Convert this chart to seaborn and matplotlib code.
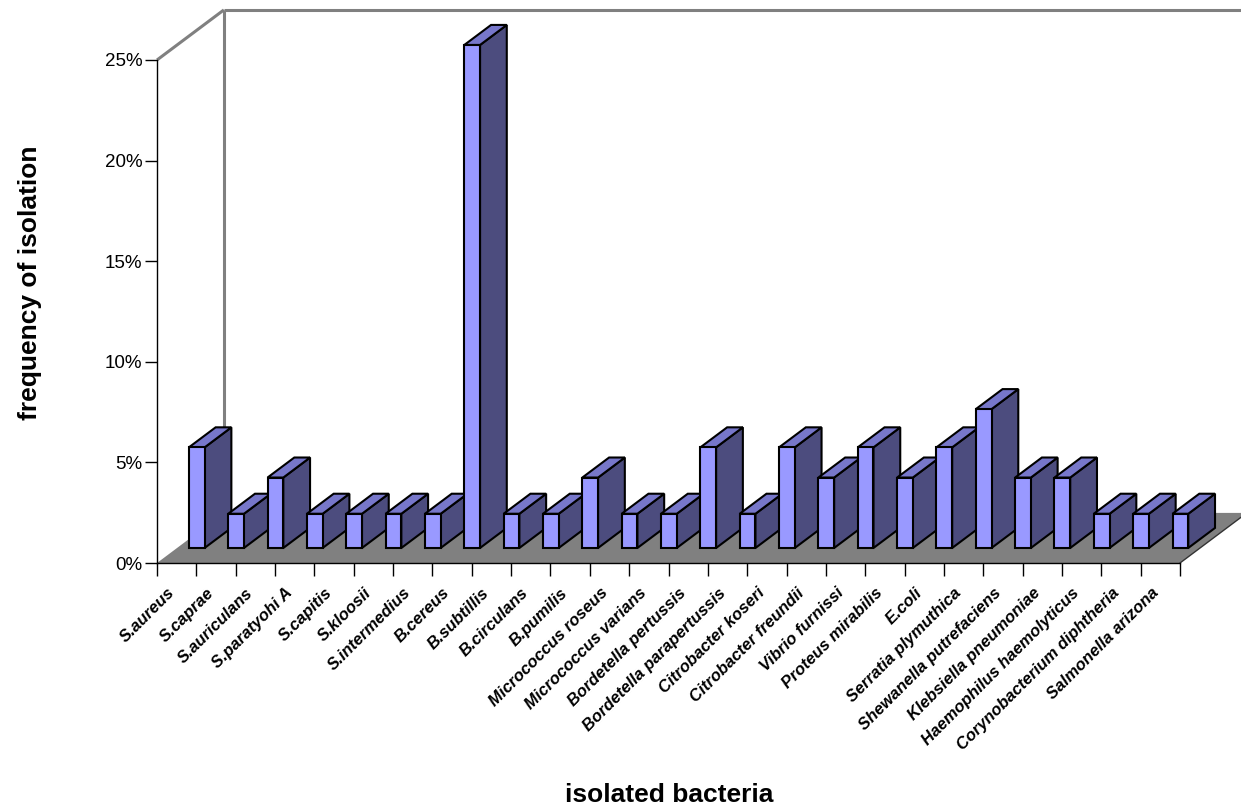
import numpy as np
import pandas as pd
import matplotlib
matplotlib.use("Agg")
import matplotlib.pyplot as plt
from matplotlib.patches import Polygon
from matplotlib.lines import Line2D
from matplotlib.transforms import ScaledTranslation
import seaborn as sns

# Isolated bacteria and their frequency of isolation (%)
bacteria = [
    "S.aureus", "S.caprae", "S.auriculans", "S.paratyohi A", "S.capitis",
    "S.kloosii", "S.intermedius", "B.cereus", "B.subtillis", "B.circulans",
    "B.pumilis", "Micrococcus roseus", "Micrococcus varians",
    "Bordetella pertussis", "Bordetella parapertussis", "Citrobacter koseri",
    "Citrobacter freundii", "Vibrio furnissi", "Proteus mirabilis", "E.coli",
    "Serratia plymuthica", "Shewanella putrefaciens", "Klebsiella pneumoniae",
    "Haemophilus haemolyticus", "Corynobacterium diphtheria",
    "Salmonella arizona",
]
frequency = [
    5.0, 1.7, 3.5, 1.7, 1.7,
    1.7, 1.7, 25.0, 1.7, 1.7,
    3.5, 1.7, 1.7,
    5.0, 1.7, 5.0,
    3.5, 5.0, 3.5, 5.0,
    6.9, 3.5, 3.5,
    1.7, 1.7,
    1.7,
]
y_ticks = [0, 5, 10, 15, 20, 25]

FRONT = "#9999FF"
TOP = "#7777CA"
SIDE = "#4C4C7E"
FLOOR = "#808080"
WALL = "#808080"

sns.set_theme(style="white")
plt.rcParams["font.family"] = ["Liberation Sans", "DejaVu Sans"]

W, H = 1241, 809
fig = plt.figure(figsize=(W / 100, H / 100), dpi=100)
ax = fig.add_axes([157 / W, 1 - 563 / H, (1180 - 157) / W, (563 - 60) / H])

df = pd.DataFrame({"bacteria": bacteria, "frequency": frequency})
sns.barplot(data=df, x="bacteria", y="frequency", ax=ax, color=FRONT,
            saturation=1, width=0.4, edgecolor="black", linewidth=1.5)

n = len(bacteria)
ax.set_xlim(-0.5, n - 0.5)
ax.set_ylim(0, 25)

# oblique depth of the 3-D box, in data units
DX, DY = 1.70, 2.49
z0, z1 = 0.3, 0.7

# floor
floor = Polygon([(-0.5, 0), (n - 0.5, 0), (n - 0.5 + DX, DY), (-0.5 + DX, DY)],
                closed=True, facecolor=FLOOR, edgecolor="none",
                zorder=1, clip_on=False)
ax.add_patch(floor)
ax.add_line(Line2D([n - 0.5, n - 0.5 + DX], [0, DY], color="#333333",
                   linewidth=1.0, zorder=1.1, clip_on=False))

# back and side walls
wall_kw = dict(color=WALL, linewidth=2.2, zorder=0.9, clip_on=False,
               solid_capstyle="butt")
ax.add_line(Line2D([-0.5 + DX, -0.5 + DX], [DY, 25 + DY], **wall_kw))
ax.add_line(Line2D([-0.5 + DX, n + 3], [25 + DY, 25 + DY], **wall_kw))
ax.add_line(Line2D([-0.5, -0.5 + DX], [25, 25 + DY], **wall_kw))

# turn the flat bars into prisms
bars = [b for b in ax.patches if b is not floor]
ddx, ddy = (z1 - z0) * DX, (z1 - z0) * DY
for i, p in enumerate(bars):
    x0 = p.get_x() + z0 * DX
    y0 = z0 * DY
    w, h = p.get_width(), p.get_height()
    p.set_x(x0)
    p.set_y(y0)
    p.set_clip_on(False)
    p.set_zorder(3 + i * 0.1 + 0.05)
    top = Polygon([(x0, y0 + h), (x0 + w, y0 + h),
                   (x0 + w + ddx, y0 + h + ddy), (x0 + ddx, y0 + h + ddy)],
                  closed=True, facecolor=TOP, edgecolor="black",
                  linewidth=1.5, joinstyle="miter", zorder=3 + i * 0.1,
                  clip_on=False)
    side = Polygon([(x0 + w, y0), (x0 + w + ddx, y0 + ddy),
                    (x0 + w + ddx, y0 + h + ddy), (x0 + w, y0 + h)],
                   closed=True, facecolor=SIDE, edgecolor="black",
                   linewidth=1.5, joinstyle="miter", zorder=3 + i * 0.1,
                   clip_on=False)
    ax.add_patch(side)
    ax.add_patch(top)

# axes
for s in ["top", "right"]:
    ax.spines[s].set_visible(False)
for s in ["left", "bottom"]:
    ax.spines[s].set_color("black")
    ax.spines[s].set_linewidth(1.0)
    ax.spines[s].set_zorder(2)
ax.patch.set_visible(False)

ax.set_yticks(y_ticks)
ax.set_yticklabels([f"{v}%" for v in y_ticks])
ax.tick_params(axis="y", left=True, direction="out", length=8.5, width=1,
               color="black", labelsize=13.5, pad=2, labelcolor="black")

ax.set_xticks(range(n))
ax.set_xticklabels(bacteria, rotation=45, ha="right", rotation_mode="anchor",
                   fontsize=12, fontweight="bold", fontstyle="italic",
                   color="black")
ax.set_xticks(np.arange(-0.5, n, 1), minor=True)
ax.tick_params(axis="x", which="major", bottom=True, length=0, pad=16)
ax.tick_params(axis="x", which="minor", bottom=True, direction="out",
               length=9, width=1, color="black")
shift = ScaledTranslation(-7 / 72, 0, fig.dpi_scale_trans)
for lab in ax.get_xticklabels():
    lab.set_transform(lab.get_transform() + shift)

ax.set_xlabel("")
ax.set_ylabel("")
fig.text(669 / W, 1 - 795 / H, "isolated bacteria", ha="center", va="center",
         fontsize=19, fontweight="bold", color="black")
fig.text(30 / W, 1 - 283 / H, "frequency of isolation", ha="center",
         va="center", rotation=90, fontsize=19, fontweight="bold",
         color="black")

fig.savefig("out.png", dpi=100, facecolor="white")
